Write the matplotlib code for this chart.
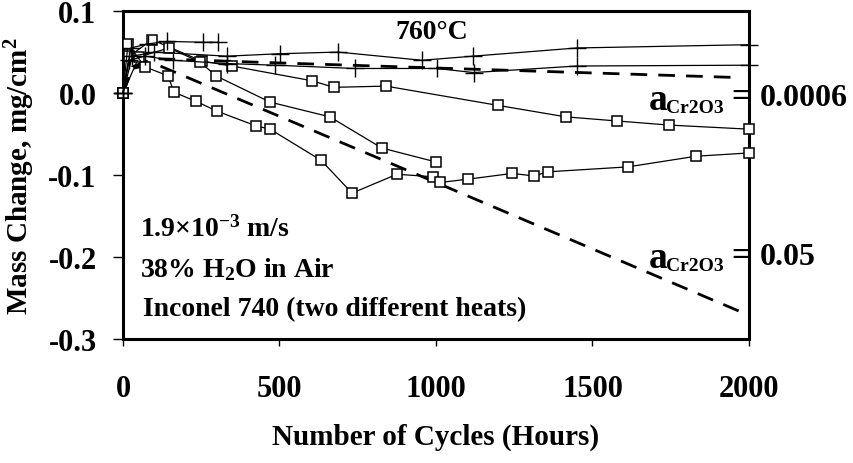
import matplotlib
matplotlib.use('Agg')
import matplotlib.pyplot as plt

# ---------------- data ----------------
# square-marker series (measured mass change)
sq1_h = [0, 20, 93, 252, 348, 604, 674, 840, 1198, 1415, 1578, 1744, 2000]
sq1_m = [0, 0.045, 0.065, 0.039, 0.033, 0.015, 0.007, 0.0085, -0.015, -0.029, -0.034, -0.039, -0.044]

sq2_h = [0, 51, 147, 246, 297, 470, 661, 827, 1000]
sq2_m = [0, 0.044, 0.055, 0.038, 0.021, -0.011, -0.029, -0.067, -0.084]

sq3_h = [0, 16, 70, 144, 163, 233, 300, 425, 470, 633, 732, 875, 990, 1013, 1102,
         1243, 1313, 1358, 1613, 1831, 2000]
sq3_m = [0, 0.06, 0.032, 0.021, 0.001, -0.010, -0.022, -0.040, -0.044, -0.082, -0.122,
         -0.099, -0.102, -0.109, -0.105, -0.098, -0.101, -0.096, -0.090, -0.077, -0.073]

# plus-marker series
pl1_h = [0, 25, 80, 140, 256, 304]
pl1_m = [0, 0.055, 0.060, 0.063, 0.062, 0.062]

pl2_h = [0, 30, 100, 332, 502, 687, 955, 1118, 1450, 2000]
pl2_m = [0, 0.045, 0.050, 0.045, 0.048, 0.050, 0.040, 0.045, 0.055, 0.059]

pl3_h = [0, 20, 70, 160, 332, 486, 741, 1003, 1120, 1450, 2000]
pl3_m = [0, 0.040, 0.045, 0.040, 0.036, 0.034, 0.030, 0.030, 0.025, 0.033, 0.034]

# model curves (dashed)
mod1_h = [0, 30, 100, 400, 1130, 1960]          # a_Cr2O3 = 0.0006
mod1_m = [0, 0.032, 0.042, 0.038, 0.029, 0.019]
mod2_h = [0, 30, 100, 200, 1000, 2000]          # a_Cr2O3 = 0.05
mod2_m = [0, 0.030, 0.036, 0.020, -0.109, -0.271]

x_ticks = [0, 500, 1000, 1500, 2000]
y_ticks = [-0.3, -0.2, -0.1, 0.0, 0.1]
y_ticklabels = ['-0.3', '-0.2', '-0.1', '0.0', '0.1']

# ---------------- style ----------------
plt.rcParams['font.family'] = ['Liberation Serif', 'DejaVu Serif']
plt.rcParams['font.weight'] = 'bold'
plt.rcParams['mathtext.fontset'] = 'custom'
plt.rcParams['mathtext.rm'] = 'Liberation Serif:bold'
plt.rcParams['mathtext.it'] = 'Liberation Serif:bold'
plt.rcParams['mathtext.bf'] = 'Liberation Serif:bold'
plt.rcParams['axes.unicode_minus'] = False

fig = plt.figure(figsize=(8.54, 4.64), dpi=100)
ax = fig.add_axes([0.144, 0.267, 0.733, 0.707])

sq_kw = dict(color='black', lw=0.9, marker='s', ms=7.8, mfc='white', mec='black',
             mew=1.1, clip_on=False, zorder=3)
pl_kw = dict(color='black', lw=0.9, marker='+', ms=13, mew=1.0, clip_on=False, zorder=3)

for h, m in [(sq1_h, sq1_m), (sq2_h, sq2_m), (sq3_h, sq3_m)]:
    ax.plot(h, m, **sq_kw)
for h, m in [(pl1_h, pl1_m), (pl2_h, pl2_m), (pl3_h, pl3_m)]:
    ax.plot(h, m, **pl_kw)

ax.plot(mod1_h, mod1_m, color='black', lw=2.0, dashes=(6, 4), zorder=2)
ax.plot(mod2_h, mod2_m, color='black', lw=2.0, dashes=(6, 4), zorder=2)

ax.set_xlim(0, 2000)
ax.set_ylim(-0.3, 0.1)
ax.set_xticks(x_ticks)
ax.set_xticklabels([str(t) for t in x_ticks])
ax.set_yticks(y_ticks)
ax.set_yticklabels(y_ticklabels)
for s in ax.spines.values():
    s.set_linewidth(2.2)
ax.tick_params(axis='both', direction='out', width=1.0, labelsize=22)
ax.tick_params(axis='y', length=7, pad=12)
ax.tick_params(axis='x', length=5, pad=20)

ax.set_xlabel('Number of Cycles (Hours)', fontsize=21, fontweight='bold', labelpad=14)
ax.set_ylabel('Mass Change, mg/cm$^2$', fontsize=21, fontweight='bold', labelpad=8)

# ---------------- annotations ----------------
ax.text(985, 0.075, '760°C', fontsize=20, fontweight='bold', ha='center', va='center')
ax.text(54, -0.165, '1.9×10$^{-3}$ m/s', fontsize=20, fontweight='bold', va='center')
ax.text(54, -0.214, '38% H$_2$O in Air', fontsize=20, fontweight='bold', va='center')
ax.text(64, -0.263, 'Inconel 740 (two different heats)', fontsize=20, fontweight='bold', va='center')

for yb, val in [(-0.019, '0.0006'), (-0.212, '0.05')]:
    ax.text(1680, yb, 'a', fontsize=27, fontweight='bold', ha='left', va='baseline',
            clip_on=False)
    ax.text(1735, yb - 0.004, 'Cr2O3', fontsize=14, fontweight='bold', ha='left',
            va='baseline', clip_on=False)
    ax.text(1975, yb + 0.004, '=', fontsize=24, fontweight='bold', ha='center',
            va='baseline', clip_on=False)
    ax.text(2035, yb + 0.004, val, fontsize=23, fontweight='bold', ha='left',
            va='baseline', clip_on=False)

fig.savefig('out.png', dpi=100)
